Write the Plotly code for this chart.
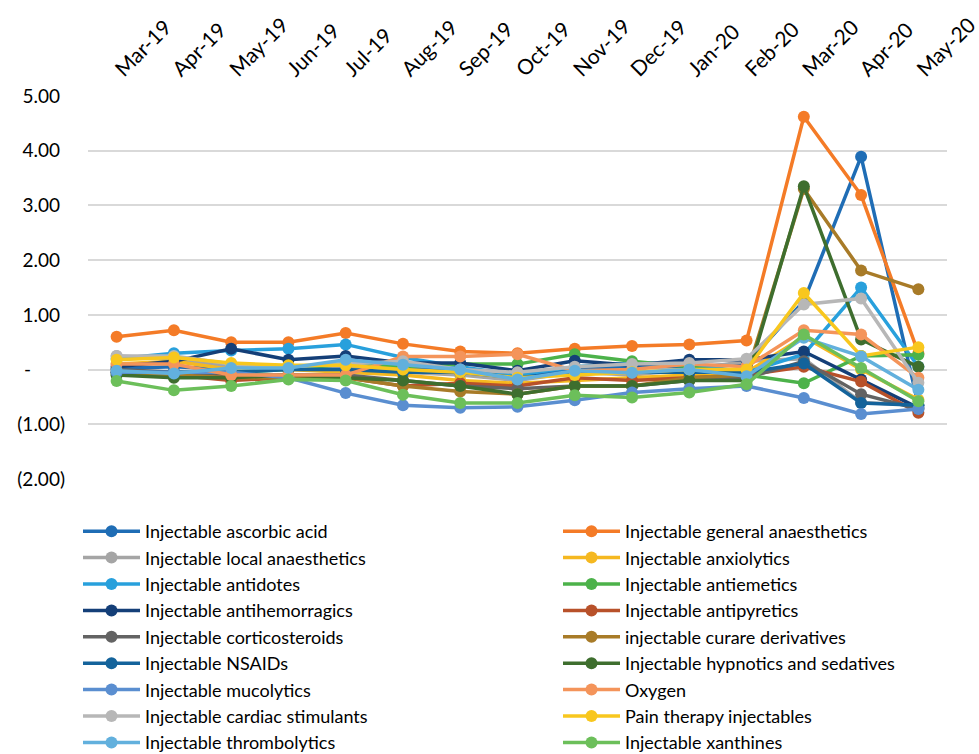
import plotly.graph_objects as go

months = ["Mar-19", "Apr-19", "May-19", "Jun-19", "Jul-19", "Aug-19", "Sep-19",
          "Oct-19", "Nov-19", "Dec-19", "Jan-20", "Feb-20", "Mar-20", "Apr-20", "May-20"]

ascorbic_acid = [0.02, 0.05, 0.00, 0.05, 0.10, 0.02, 0.00, -0.10, 0.00, 0.05, 0.05, 0.10, 1.25, 3.89, -0.65]
general_anaesthetics = [0.60, 0.72, 0.50, 0.50, 0.67, 0.47, 0.33, 0.30, 0.38, 0.43, 0.46, 0.53, 4.62, 3.19, 0.30]
local_anaesthetics = [0.25, 0.20, 0.05, 0.00, 0.05, -0.05, -0.10, -0.20, -0.05, -0.10, 0.00, 0.15, 0.20, -0.60, -0.65]
anxiolytics = [0.10, 0.15, 0.00, 0.00, -0.05, -0.10, -0.20, -0.25, -0.20, -0.15, -0.10, -0.05, 0.60, 0.00, -0.55]
antidotes = [0.20, 0.30, 0.35, 0.38, 0.46, 0.22, 0.05, -0.10, 0.05, 0.12, 0.10, -0.05, 0.28, 1.50, 0.05]
antiemetics = [-0.10, -0.05, -0.05, 0.00, 0.10, 0.05, 0.10, 0.10, 0.28, 0.15, 0.05, -0.10, -0.25, 0.25, 0.27]
antihemorragics = [0.05, 0.15, 0.38, 0.18, 0.25, 0.12, 0.12, -0.02, 0.16, 0.08, 0.18, 0.18, 0.33, -0.18, -0.70]
antipyretics = [-0.05, -0.10, -0.20, -0.15, -0.15, -0.30, -0.25, -0.30, -0.15, -0.20, -0.15, -0.10, 0.05, -0.22, -0.79]
corticosteroids = [0.00, -0.05, -0.10, -0.10, -0.10, -0.20, -0.30, -0.35, -0.30, -0.30, -0.20, -0.15, 0.15, -0.45, -0.72]
curare_derivatives = [-0.05, -0.10, -0.15, -0.15, -0.15, -0.30, -0.40, -0.45, -0.30, -0.30, -0.15, -0.10, 3.30, 1.81, 1.47]
nsaids = [-0.05, -0.05, -0.05, 0.00, 0.00, -0.05, -0.05, -0.15, -0.05, -0.05, -0.05, -0.05, 0.11, -0.61, -0.65]
hypnotics_sedatives = [-0.10, -0.15, -0.15, -0.10, -0.15, -0.20, -0.30, -0.45, -0.30, -0.30, -0.20, -0.20, 3.35, 0.55, 0.05]
mucolytics = [-0.05, -0.05, -0.05, -0.15, -0.43, -0.65, -0.70, -0.68, -0.56, -0.42, -0.35, -0.30, -0.52, -0.81, -0.72]
oxygen = [0.10, 0.10, -0.10, -0.10, -0.10, 0.24, 0.24, 0.28, -0.02, 0.00, 0.10, 0.05, 0.72, 0.64, -0.15]
cardiac_stimulants = [0.25, 0.25, 0.10, 0.05, 0.10, 0.15, 0.00, -0.05, 0.05, 0.10, 0.12, 0.20, 1.19, 1.30, -0.24]
pain_therapy = [0.18, 0.22, 0.12, 0.08, 0.08, 0.00, -0.05, -0.15, -0.10, -0.05, 0.00, 0.00, 1.40, 0.25, 0.41]
thrombolytics = [-0.02, -0.07, 0.03, 0.03, 0.18, 0.09, 0.00, -0.18, -0.02, -0.06, 0.00, -0.12, 0.58, 0.24, -0.37]
xanthines = [-0.21, -0.38, -0.30, -0.18, -0.20, -0.46, -0.61, -0.61, -0.47, -0.51, -0.42, -0.27, 0.64, 0.03, -0.58]

series = [
    ("Injectable ascorbic acid", ascorbic_acid, "#1F6DB5"),
    ("Injectable general anaesthetics", general_anaesthetics, "#F47B27"),
    ("Injectable local anaesthetics", local_anaesthetics, "#A5A5A5"),
    ("Injectable anxiolytics", anxiolytics, "#F5B820"),
    ("Injectable antidotes", antidotes, "#28A0DC"),
    ("Injectable antiemetics", antiemetics, "#4CB24A"),
    ("Injectable antihemorragics", antihemorragics, "#143F78"),
    ("Injectable antipyretics", antipyretics, "#B8512A"),
    ("Injectable corticosteroids", corticosteroids, "#636363"),
    ("injectable curare derivatives", curare_derivatives, "#A87B28"),
    ("Injectable NSAIDs", nsaids, "#14639B"),
    ("Injectable hypnotics and sedatives", hypnotics_sedatives, "#3E6E2E"),
    ("Injectable mucolytics", mucolytics, "#5A8ED0"),
    ("Oxygen", oxygen, "#F4945A"),
    ("Injectable cardiac stimulants", cardiac_stimulants, "#B7B7B7"),
    ("Pain therapy injectables", pain_therapy, "#F8C71E"),
    ("Injectable thrombolytics", thrombolytics, "#62B0DD"),
    ("Injectable xanthines", xanthines, "#6CBF5A"),
]

y_ticks = [5, 4, 3, 2, 1, 0, -1, -2]
y_labels = ["5.00\u00a0", "4.00\u00a0", "3.00\u00a0", "2.00\u00a0", "1.00\u00a0",
            "-\u00a0\u00a0\u00a0\u00a0\u00a0\u00a0\u00a0", "(1.00)", "(2.00)"]

font_family = "Lato, 'Open Sans', sans-serif"

fig = go.Figure()
for i, (name, values, color) in enumerate(series):
    # alternate entries between a left and a right legend column
    fig.add_trace(go.Scatter(
        x=months, y=values, name=name, mode="lines+markers",
        line=dict(color=color, width=3.5),
        marker=dict(color=color, size=12),
        legend="legend" if i % 2 == 0 else "legend2",
    ))

legend_style = dict(
    orientation="v", xref="container", yref="container",
    xanchor="left", yanchor="top", y=1 - 513 / 754,
    font=dict(family=font_family, size=18, color="black"),
    bgcolor="rgba(0,0,0,0)", itemwidth=57, tracegroupgap=0,
    maxheight=400,
)

fig.update_layout(
    width=979, height=754,
    margin=dict(l=88, r=32, t=96, b=275, autoexpand=False),
    paper_bgcolor="white", plot_bgcolor="white",
    font=dict(family=font_family, size=18, color="black"),
    showlegend=True,
    legend=dict(legend_style, x=78 / 979),
    legend2=dict(legend_style, x=558 / 979),
    xaxis=dict(
        type="category", side="top", tickangle=-45,
        range=[-0.5, len(months) - 0.5],
        showgrid=False, showline=False, zeroline=False, ticks="",
        ticklabelstandoff=10,
        tickfont=dict(family=font_family, size=21),
    ),
    yaxis=dict(
        range=[-2, 5], tickvals=y_ticks, ticktext=y_labels,
        showgrid=True, gridcolor="#D9D9D9", gridwidth=1.5,
        zeroline=False, showline=False, ticks="",
        ticklabelstandoff=22,
        tickfont=dict(family=font_family, size=19),
    ),
)

fig.write_html("out.html")
